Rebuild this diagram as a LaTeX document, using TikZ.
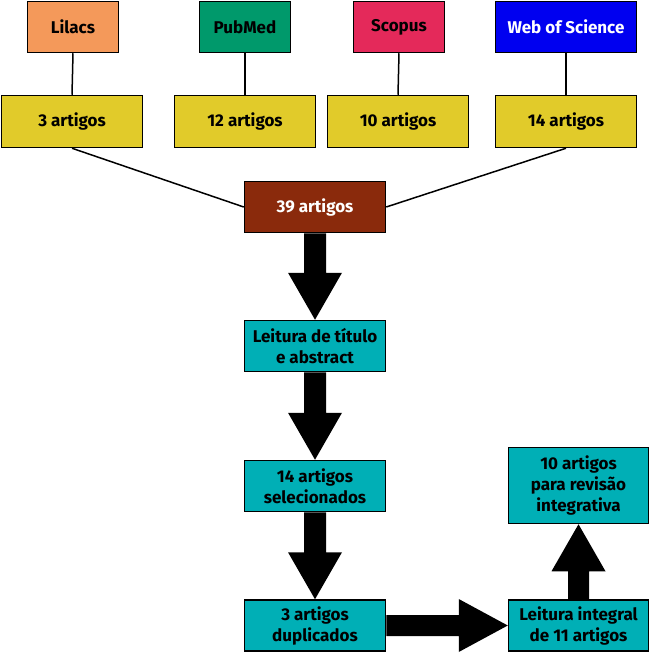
\documentclass[tikz,border=0pt]{standalone}
\usepackage{fontspec}
\setmainfont{Fira Sans}
\usetikzlibrary{calc}
\definecolor{lil}{HTML}{F4995A}
\definecolor{pub}{HTML}{00996B}
\definecolor{sco}{HTML}{E4295A}
\definecolor{wos}{HTML}{0000F0}
\definecolor{yel}{HTML}{E1CB2A}
\definecolor{brn}{HTML}{8A2A0C}
\definecolor{tea}{HTML}{00AFB6}
\begin{document}
\begin{tikzpicture}[x=1pt,y=-1pt,
  box/.style={draw=black, line width=1.5pt, minimum height=51pt, inner sep=1pt,
    align=center, font=\bfseries\fontsize{17}{21}\selectfont},
  srcbox/.style={box, minimum width=91pt},
  wide/.style={box, minimum width=141pt},
  conn/.style={draw=black, line width=1.5pt},
  blk/.style={fill=black}]
\useasboundingbox (0,0) rectangle (650,653);
% sources
\node[srcbox, fill=lil] (lil) at (73,27) {Lilacs};
\node[srcbox, fill=pub] (pub) at (245,27) {PubMed};
\node[srcbox, fill=sco] (sco) at (399,27) {Scopus};
\node[wide, fill=wos, text=white] (wos) at (566,27) {Web of Science};
% counts
\node[wide, fill=yel, minimum height=52pt] (a3) at (72,121.5) {3 artigos};
\node[wide, fill=yel, minimum height=52pt] (a12) at (245,121.5) {12 artigos};
\node[wide, fill=yel, minimum height=52pt] (a10) at (398,121.5) {10 artigos};
\node[wide, fill=yel, minimum height=52pt] (a14) at (566,121.5) {14 artigos};
% flow
\node[wide, fill=brn, text=white] (c39) at (315,207) {39 artigos};
\node[wide, fill=tea] (tit) at (315,346) {Leitura de título\\e abstract};
\node[wide, fill=tea] (sel) at (315,486) {14 artigos\\selecionados};
\node[wide, fill=tea] (dup) at (315,625.5) {3 artigos\\duplicados};
\node[box, fill=tea, minimum width=140pt] (integ) at (578.5,625.5) {Leitura integral\\de 11 artigos};
\node[box, fill=tea, minimum width=140pt, minimum height=76pt] (rev) at (578.5,485.5) {10 artigos\\para revisão\\integrativa};
% thin connectors
\draw[conn] (lil.south) -- (a3.north);
\draw[conn] (pub.south) -- (a12.north);
\draw[conn] (sco.south) -- (a10.north);
\draw[conn] (wos.south) -- (a14.north);
\draw[conn] (a3.south) -- (c39.west);
\draw[conn] (a14.south) -- (c39.east);
% block arrows down
\foreach \A/\B in {c39/tit, tit/sel, sel/dup}{
  \fill[blk] ($(\A.south)+(-11,0)$) -- ($(\B.north)+(-11,-47)$) -- ($(\B.north)+(-27,-47)$)
    -- (\B.north) -- ($(\B.north)+(27,-47)$) -- ($(\B.north)+(11,-47)$)
    -- ($(\A.south)+(11,0)$) -- cycle;
}
% block arrow right
\fill[blk] ($(dup.east)+(0,-10.5)$) -- ($(integ.west)+(-49,-10.5)$) -- ($(integ.west)+(-49,-26.5)$)
  -- (integ.west) -- ($(integ.west)+(-49,26.5)$) -- ($(integ.west)+(-49,10.5)$)
  -- ($(dup.east)+(0,10.5)$) -- cycle;
% block arrow up
\fill[blk] ($(integ.north)+(-10.5,0)$) -- ($(rev.south)+(-10.5,47)$) -- ($(rev.south)+(-27,47)$)
  -- (rev.south) -- ($(rev.south)+(27,47)$) -- ($(rev.south)+(10.5,47)$)
  -- ($(integ.north)+(10.5,0)$) -- cycle;
\end{tikzpicture}
\end{document}
